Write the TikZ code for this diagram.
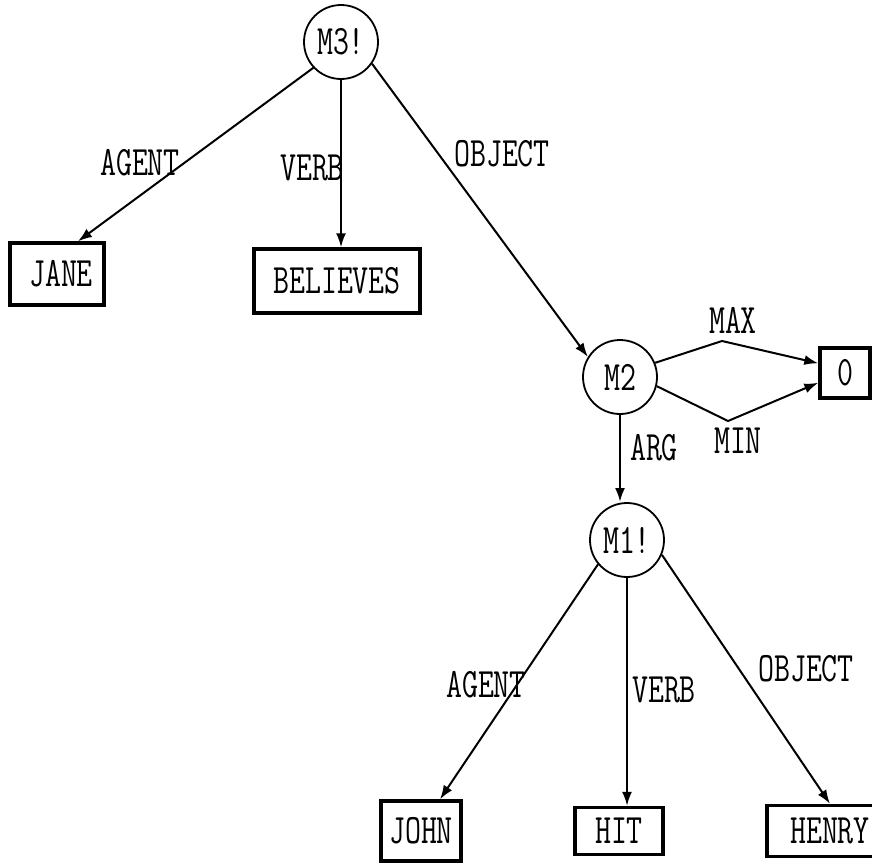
\documentclass[tikz,border=0pt]{standalone}
\usepackage{graphicx}
\usepackage{tikz}
\usetikzlibrary{arrows.meta}

\newcommand{\tx}[1]{\scalebox{1}[1.35]{#1}}

\begin{document}
\begin{tikzpicture}[x=1pt, y=-1pt,
  nd/.style={draw, circle, line width=1.8pt, minimum size=74pt, inner sep=0pt, font=\ttfamily\fontsize{31}{36}\selectfont},
  box/.style={draw, line width=3.4pt, minimum height=60pt, inner sep=0pt, font=\ttfamily\fontsize{31}{36}\selectfont},
  lbl/.style={inner sep=0pt, font=\ttfamily\fontsize{31}{36}\selectfont},
  >={Latex[length=14pt, width=10pt]}, line width=2pt
]
\useasboundingbox (0,0) rectangle (872,862);

% propositions
\node[nd] (m3) at (341,42)  {\tx{M3!}};
\node[nd] (m2) at (620,377) {\tx{M2}};
\node[nd] (m1) at (627,540) {\tx{M1!}};

% base nodes
\node[box, minimum width=94pt, minimum height=62pt]  (jane)     at (57,274)  {\tx{\hspace{8pt}JANE}};
\node[box, minimum width=166pt, minimum height=64pt] (believes) at (337,281) {\tx{BELIEVES}};
\node[box, minimum width=50pt, minimum height=50pt]  (zero)     at (845,373) {\tx{0}};
\node[box, minimum width=80pt, minimum height=60pt]  (john)     at (421,831) {\tx{JOHN}};
\node[box, minimum width=88pt, minimum height=47pt]  (hit)      at (619,831) {\tx{HIT}};
\node[box, minimum width=126pt, minimum height=51pt] (henry)    at (830,831) {\tx{HENRY}};

\coordinate (maxbend) at (722,341);
\coordinate (minbend) at (728,421);

% arcs
\draw[->] (m3.-137) -- ([xshift=21pt]jane.north);
\draw[->] (m3.south) -- (m3.south |- believes.north);
\draw[->] (m3.-35) -- (m2.148);
\draw[->] (m2.22) -- (maxbend) -- (zero.160);
\draw[->] (m2.-14) -- (minbend) -- (zero.200);
\draw[->, line width=2.6pt] (m2.south) -- (m2.south |- m1.north);
\draw[->] (m1.-140) -- ([xshift=19pt]john.north);
\draw[->] (m1.south) -- (m1.south |- hit.north);
\draw[->] (m1.-23) -- (henry.north);

% arc labels
\node[lbl] (lagent3)  at (140,163) {\tx{AGENT}};
\node[lbl] (lverb3)   at (312,168) {\tx{VERB}};
\node[lbl] (lobject3) at (502,154) {\tx{OBJECT}};
\node[lbl] (lmax)     at (733,320) {\tx{MAX}};
\node[lbl] (lmin)     at (738,441) {\tx{MIN}};
\node[lbl] (larg)     at (654,448) {\tx{ARG}};
\node[lbl] (lagent1)  at (486,685) {\tx{AGENT}};
\node[lbl] (lverb1)   at (664,690) {\tx{VERB}};
\node[lbl] (lobject1) at (806,669) {\tx{OBJECT}};
\end{tikzpicture}
\end{document}
